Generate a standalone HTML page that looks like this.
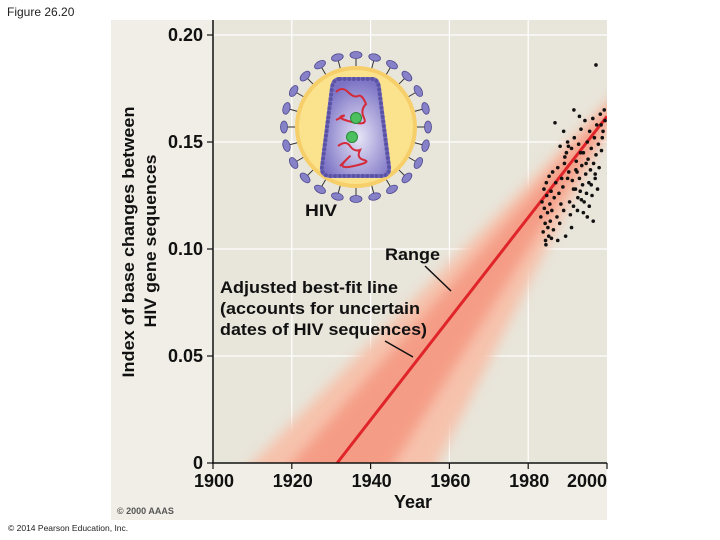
<!DOCTYPE html>
<html><head><meta charset="utf-8"><style>
html,body{margin:0;width:720px;height:540px;background:#fff;overflow:hidden;font-family:"Liberation Sans",sans-serif;}
svg{position:absolute;left:0;top:0;display:block}
</style></head><body>
<svg id="chart" width="720" height="540">
<defs>
<filter id="blur8" x="-50%" y="-50%" width="200%" height="200%"><feGaussianBlur stdDeviation="6"/></filter>
<radialGradient id="capg" cx="0.55" cy="0.6" r="0.6"><stop offset="0" stop-color="#e6e4f6"/><stop offset="1" stop-color="#7b72c4"/></radialGradient>
<clipPath id="plotclip"><rect x="213" y="20" width="394" height="443"/></clipPath>
</defs>
<text x="7" y="16" font-size="12" fill="#222">Figure 26.20</text>
<rect x="111" y="20" width="496" height="500" fill="#f0eee6"/>
<rect x="213" y="20" width="394" height="443" fill="#e8e5da"/>
<g id="grid"></g>
<g id="band" clip-path="url(#plotclip)"></g>
<g id="fit" clip-path="url(#plotclip)"></g>
<g id="dots"></g>
<g id="axes"></g>
<g id="virus"></g>
<text x="305" y="216" font-size="17" font-weight="bold" fill="#111" textLength="32" lengthAdjust="spacingAndGlyphs">HIV</text>
<text x="385" y="260" font-size="17" font-weight="bold" fill="#111" textLength="55" lengthAdjust="spacingAndGlyphs">Range</text>
<line x1="425" y1="266" x2="451" y2="291" stroke="#111" stroke-width="1.5"/>
<g font-size="17" font-weight="bold" fill="#111">
<text x="220" y="293" textLength="178" lengthAdjust="spacingAndGlyphs">Adjusted best-fit line</text>
<text x="220" y="314" textLength="200" lengthAdjust="spacingAndGlyphs">(accounts for uncertain</text>
<text x="220" y="335" textLength="207" lengthAdjust="spacingAndGlyphs">dates of HIV sequences)</text>
</g>
<line x1="385" y1="341" x2="413" y2="357" stroke="#111" stroke-width="1.5"/>
<g font-size="17" font-weight="bold" fill="#111" text-anchor="middle">
<text transform="translate(134,242) rotate(-90)" textLength="271" lengthAdjust="spacingAndGlyphs">Index of base changes between</text>
<text transform="translate(156,241) rotate(-90)" textLength="173" lengthAdjust="spacingAndGlyphs">HIV gene sequences</text>
</g>
<text x="413" y="508" font-size="18" font-weight="bold" fill="#111" text-anchor="middle">Year</text>
<text x="117" y="514" font-size="9" font-weight="bold" fill="#555">© 2000 AAAS</text>
<text x="8" y="531" font-size="8.5" fill="#222">© 2014 Pearson Education, Inc.</text>
</svg>
<script>
const xTicks=[1900,1920,1940,1960,1980,2000];
const yTicks=[0,0.05,0.10,0.15,0.20];
const yTickLabels=["0","0.05","0.10","0.15","0.20"];
const fitYears=[1931.5,2000];
const fitValues=[0,0.162];
const rangeOuterUpperYears=[1910,2000];
const rangeOuterUpperValues=[0,0.168];
const rangeOuterLowerYears=[1957,2000];
const rangeOuterLowerValues=[0,0.156];
const rangeInnerUpperYears=[1920,2000];
const rangeInnerUpperValues=[0,0.165];
const rangeInnerLowerYears=[1946,2000];
const rangeInnerLowerValues=[0,0.159];
const dotYears=[1983.2,1983.5,1983.8,1984.0,1984.1,1984.3,1984.4,1984.6,1984.7,1984.9,1985.0,1985.2,1985.3,1985.5,1985.6,1985.8,1986.0,1986.2,1986.4,1986.6,
1987.0,1987.3,1987.5,1987.8,1988.0,1988.3,1988.5,1988.8,1989.0,1989.2,1989.5,1989.7,1990.0,1990.3,1990.5,1990.7,1991.0,1991.2,1991.5,1991.7,1989.0,1990.2,1991.6,1986.8,1988.1,1989.3,
1992.0,1992.2,1992.4,1992.6,1992.8,1993.0,1993.2,1993.4,1993.6,1993.8,1994.0,1994.2,1994.4,1994.6,1994.8,1995.0,1995.2,1995.4,1995.6,1995.8,1996.0,1996.2,1996.4,1996.6,1996.8,1997.0,1997.2,1997.4,1997.6,1997.8,1998.0,1998.3,1998.6,1999.0,1999.3,1997.2,1993.0,1995.0,1991.0,1996.5,1987.5,1992.5,1994.0,1995.5,1993.5,1997.0,1998.5,1991.5,1990.0,
1984.5,1985.9,1998.8,1999.5,1996.0,1994.7,1993.3,1992.1];
const dotValues=[0.115,0.122,0.108,0.128,0.119,0.112,0.104,0.131,0.125,0.117,0.110,0.106,0.134,0.121,0.113,0.127,0.118,0.136,0.109,0.124,
0.131,0.115,0.138,0.126,0.112,0.121,0.133,0.129,0.118,0.140,0.106,0.145,0.150,0.136,0.122,0.116,0.147,0.132,0.120,0.152,0.155,0.148,0.165,0.159,0.148,0.143,
0.128,0.141,0.136,0.124,0.149,0.133,0.127,0.156,0.139,0.130,0.145,0.122,0.160,0.135,0.126,0.150,0.142,0.131,0.155,0.137,0.147,0.125,0.161,0.140,0.152,0.133,0.144,0.158,0.128,0.149,0.138,0.163,0.146,0.155,0.165,0.186,0.162,0.115,0.110,0.113,0.104,0.118,0.117,0.120,0.123,0.135,0.158,0.128,0.133,
0.102,0.105,0.152,0.160,0.130,0.140,0.145,0.137];
const NS="http://www.w3.org/2000/svg";
const X=y=>213+(y-1900)*3.94;
const Y=v=>463-v*2140;
function mk(t,a,p){const e=document.createElementNS(NS,t);for(const k in a)e.setAttribute(k,a[k]);p.appendChild(e);return e;}
const grid=document.getElementById('grid'),axes=document.getElementById('axes');
xTicks.slice(1,-1).forEach(t=>{const l=mk('line',{x1:X(t),x2:X(t),y1:20,y2:463,stroke:'#fff','stroke-width':1.2},grid);

});
yTicks.slice(1).forEach(t=>{const l=mk('line',{x1:213,x2:607,y1:Y(t),y2:Y(t),stroke:'#fff','stroke-width':1.2},grid);

});
function poly(uy,uv,ly,lv,fill,filt,name){
const pts=[[X(uy[0]),Y(uv[0])],[X(uy[1]),Y(uv[1])],[X(ly[1]),Y(lv[1])],[X(ly[0]),Y(lv[0])]];
const ext=(a,b)=>[b[0]+(b[0]-a[0])*0.1,b[1]+(b[1]-a[1])*0.1];
const p=[ext(pts[1],pts[0]),ext(pts[0],pts[1]),ext(pts[3],pts[2]),ext(pts[2],pts[3])];
const e=mk('polygon',{points:p.map(q=>q.join(',')).join(' '),fill:fill,filter:filt},document.getElementById('band'));

}
poly(rangeOuterUpperYears,rangeOuterUpperValues,rangeOuterLowerYears,rangeOuterLowerValues,'#f6c2ac','url(#blur8)','range-band-outer');
poly(rangeInnerUpperYears,rangeInnerUpperValues,rangeInnerLowerYears,rangeInnerLowerValues,'#f59c86','url(#blur8)','range-band-inner');
const fl=mk('line',{x1:X(fitYears[0]),y1:Y(fitValues[0]),x2:X(fitYears[1]),y2:Y(fitValues[1]),stroke:'#e0252a','stroke-width':3},document.getElementById('fit'));


const dg=document.getElementById('dots');
dotYears.forEach((yr,i)=>{const c=mk('circle',{cx:X(yr),cy:Y(dotValues[i]),r:1.8,fill:'#111'},dg);

});
let a=mk('line',{x1:213,y1:20,x2:213,y2:464,stroke:'#111','stroke-width':1.5},axes);


a=mk('line',{x1:212,y1:463,x2:607,y2:463,stroke:'#111','stroke-width':1.5},axes);


yTicks.forEach((t,i)=>{mk('line',{x1:207,x2:213,y1:Y(t),y2:Y(t),stroke:'#111','stroke-width':1.2},axes);
const tx=mk('text',{x:203,y:Y(t)+6,'text-anchor':'end','font-size':18,'font-weight':'bold',fill:'#111'},axes);tx.textContent=yTickLabels[i];

});
xTicks.forEach((t,i)=>{mk('line',{x1:X(t),x2:X(t),y1:463,y2:469,stroke:'#111','stroke-width':1.2},axes);
const last=i==xTicks.length-1;
const tx=mk('text',{x:last?X(t):X(t)+1,y:487,'text-anchor':last?'end':'middle','font-size':18,'font-weight':'bold',fill:'#111'},axes);tx.textContent=String(t);

});
const v=document.getElementById('virus');const cx=356,cy=127;
for(let k=0;k<24;k++){const ang=k/24*2*Math.PI;const x1=cx+60*Math.cos(ang),y1=cy+60*Math.sin(ang),x2=cx+70*Math.cos(ang),y2=cy+70*Math.sin(ang);
mk('line',{x1,y1,x2,y2,stroke:'#333','stroke-width':1},v);
mk('ellipse',{cx:cx+72*Math.cos(ang),cy:cy+72*Math.sin(ang),rx:6,ry:3.5,fill:'#8782c8',stroke:'#4d4790','stroke-width':0.8,transform:`rotate(${ang*180/Math.PI+90} ${cx+72*Math.cos(ang)} ${cy+72*Math.sin(ang)})`},v);}
mk('circle',{cx,cy,r:61,fill:'#f7cf6a'},v);
mk('circle',{cx,cy,r:57,fill:'#fbe28c'},v);
mk('path',{d:'M340,79 L372,79 Q378,79 379,88 L389,167 Q390,176 380,176 L331,176 Q321,176 322,167 L332,88 Q333,79 340,79 Z',fill:'url(#capg)',stroke:'#7d76c4','stroke-width':4},v);
mk('path',{d:'M340,79 L372,79 Q378,79 379,88 L389,167 Q390,176 380,176 L331,176 Q321,176 322,167 L332,88 Q333,79 340,79 Z',fill:'none',stroke:'#5a53a6','stroke-width':4,'stroke-dasharray':'0.1 4.5','stroke-linecap':'round'},v);
mk('path',{d:'M336,92 q6,-6 12,0 t10,4 t8,8 q-6,6 -2,14 t-12,4 t-10,-6 t-6,4 M338,146 q8,-6 12,0 t10,4 q-4,8 4,10 t-10,6 t-8,-6 t-6,6',fill:'none',stroke:'#d42a3a','stroke-width':2},v);
mk('circle',{cx:356,cy:118,r:5.5,fill:'#4cc060',stroke:'#2a8a3a'},v);
mk('circle',{cx:352,cy:137,r:5.5,fill:'#4cc060',stroke:'#2a8a3a'},v);
</script>
</body></html>
